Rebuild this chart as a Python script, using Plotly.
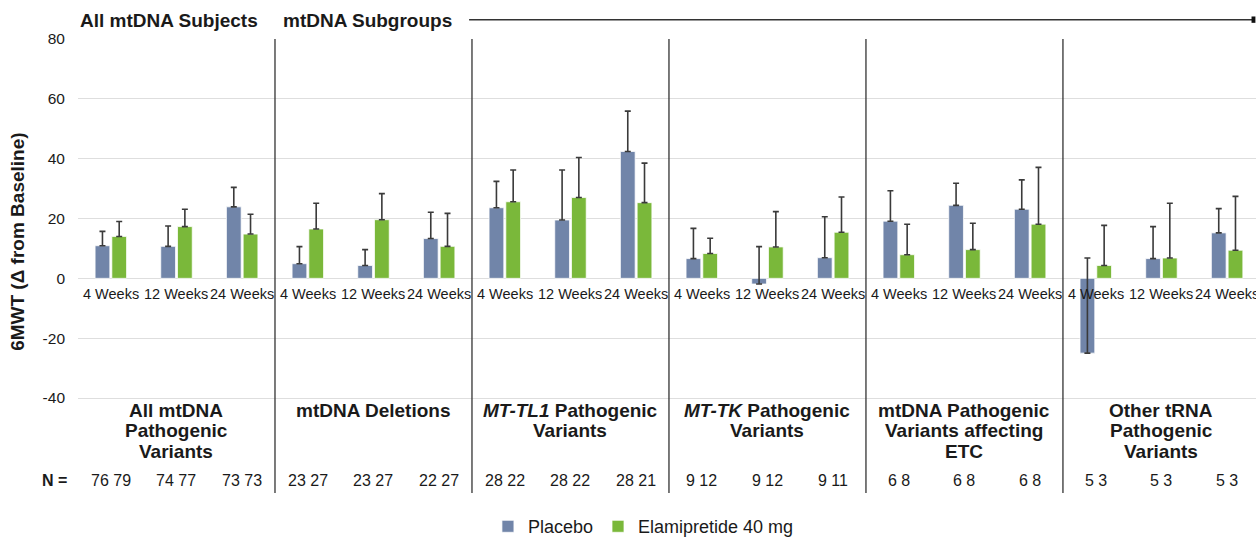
import plotly.graph_objects as go

# ---------------- data ----------------
weeks = ["4 Weeks", "12 Weeks", "24 Weeks"]
groups = [
    "All mtDNA<br>Pathogenic<br>Variants",
    "mtDNA Deletions",
    "<i>MT-TL1</i> Pathogenic<br>Variants",
    "<i>MT-TK</i> Pathogenic<br>Variants",
    "mtDNA Pathogenic<br>Variants affecting<br>ETC",
    "Other tRNA<br>Pathogenic<br>Variants",
]
placebo = [10.9, 10.7, 23.9, 4.9, 4.3, 13.3, 23.6, 19.5, 42.4,
           6.6, -1.9, 6.9, 19.1, 24.4, 23.1, -25.0, 6.6, 15.2]
placebo_se = [4.8, 6.8, 6.5, 5.7, 5.3, 8.8, 8.8, 16.7, 13.5,
              10.1, 12.5, 13.7, 10.2, 7.4, 9.8, 31.8, 10.7, 8.1]
elam = [14.0, 17.3, 14.8, 16.5, 19.6, 10.7, 25.6, 27.0, 25.3,
        8.3, 10.5, 15.4, 7.9, 9.6, 18.1, 4.3, 6.8, 9.4]
elam_se = [5.0, 5.8, 6.6, 8.6, 8.7, 11.0, 10.6, 13.4, 13.2,
           5.1, 11.8, 11.8, 10.2, 8.8, 19.0, 13.4, 18.3, 18.0]
n_placebo = [76, 74, 73, 23, 23, 22, 28, 28, 28, 9, 9, 9, 6, 6, 6, 5, 5, 5]
n_elam = [79, 77, 73, 27, 27, 27, 22, 22, 21, 12, 12, 11, 8, 8, 8, 3, 3, 3]
y_ticks = [-40, -20, 0, 20, 40, 60, 80]
y_tick_text = ["-40", "-20", "0", "20", "40", "60", "80"]
header_left = "All mtDNA Subjects"
header_right = "mtDNA Subgroups"
y_title = "6MWT (Δ from Baseline)"
series_names = ["Placebo", "Elamipretide 40 mg"]

# ---------------- styling ----------------
FONT = "Arial, 'Liberation Sans', sans-serif"
C_PLA = "#7185A9"
C_ELA = "#7AB83A"
TXT = "#1a1a1a"
ERR = "#3a3a3a"

n_cat = len(groups) * len(weeks)
xs = list(range(n_cat))

fig = go.Figure()
for name, vals, se, col in [(series_names[0], placebo, placebo_se, C_PLA),
                             (series_names[1], elam, elam_se, C_ELA)]:
    fig.add_trace(go.Bar(
        x=xs, y=vals, name=name,
        marker=dict(color=col, line=dict(color="rgba(255,255,255,0.75)", width=1)),
        error_y=dict(type="data", symmetric=False, array=se,
                     arrayminus=[0] * len(se), color=ERR, thickness=1.6, width=3),
    ))

annotations = []
# week labels just below zero
for i in xs:
    annotations.append(dict(x=i, y=0, xref="x", yref="y", yanchor="top", yshift=-6,
                            text=weeks[i % 3], showarrow=False,
                            font=dict(family=FONT, size=14.5, color=TXT)))
# group labels (line by line)
line_y = [-44.2, -50.9, -57.8]
for g, lab in enumerate(groups):
    for k, line in enumerate(lab.split("<br>")):
        annotations.append(dict(x=3 * g + 1, y=line_y[k], xref="x", yref="y",
                                yanchor="middle", text="<b>" + line + "</b>",
                                showarrow=False,
                                font=dict(family=FONT, size=19, color=TXT)))
# N row
annotations.append(dict(x=-0.02, y=-67.6, xref="paper", yref="y", xanchor="center",
                        yanchor="middle", text="<b>N =</b>", showarrow=False,
                        font=dict(family=FONT, size=16, color=TXT)))
for i in xs:
    annotations.append(dict(x=i, y=-67.6, xref="x", yref="y", yanchor="middle",
                            text=f"{n_placebo[i]} {n_elam[i]}", showarrow=False,
                            font=dict(family=FONT, size=16, color=TXT)))
# header
annotations.append(dict(x=0.0, y=1.040, xref="paper", yref="paper", xanchor="left",
                        yanchor="middle", text="<b>" + header_left + "</b>",
                        showarrow=False, font=dict(family=FONT, size=19, color=TXT)))
annotations.append(dict(x=0.172, y=1.040, xref="paper", yref="paper", xanchor="left",
                        yanchor="middle", text="<b>" + header_right + "</b>",
                        showarrow=False, font=dict(family=FONT, size=19, color=TXT)))
# y-axis title
annotations.append(dict(x=-0.051, y=0.553, xref="paper", yref="paper", xanchor="center",
                        yanchor="middle", textangle=-90, text="<b>" + y_title + "</b>",
                        showarrow=False, font=dict(family=FONT, size=19, color=TXT)))

shapes = []
for g in range(1, len(groups)):
    shapes.append(dict(type="line", xref="x", yref="paper", x0=3 * g - 0.5, x1=3 * g - 0.5,
                       y0=0, y1=1, line=dict(color="#333333", width=1.3)))
shapes.append(dict(type="line", xref="paper", yref="paper", x0=0.332, x1=0.997,
                   y0=1.0426, y1=1.0426, line=dict(color="#333333", width=1.5)))
shapes.append(dict(type="rect", xref="paper", yref="paper", x0=0.9962, x1=0.9995,
                   y0=1.0426 - 0.007, y1=1.0426 + 0.007, fillcolor="#111111",
                   line=dict(width=0)))

fig.update_layout(
    width=1256, height=540,
    margin=dict(l=78, r=0, t=39, b=47, autoexpand=False),
    paper_bgcolor="white", plot_bgcolor="white",
    barmode="group", bargap=0.49, bargroupgap=0.12,
    font=dict(family=FONT, color=TXT),
    showlegend=True,
    legend=dict(orientation="h", x=0.48, xanchor="center", y=-0.074, yanchor="middle",
                font=dict(family=FONT, size=18, color=TXT), itemwidth=30),
    xaxis=dict(range=[-0.5, 17.44], showticklabels=False, showgrid=False,
               zeroline=False, showline=False, ticks="", automargin=False),
    yaxis=dict(range=[-71.75, 80], tickvals=y_ticks, ticktext=y_tick_text,
               showgrid=True, gridcolor="#DEDEDE", gridwidth=1, zeroline=False,
               showline=False, ticks="", ticklabelstandoff=12, automargin=False,
               tickfont=dict(family=FONT, size=15.5, color=TXT)),
    annotations=annotations,
    shapes=shapes,
)

fig.write_html("out.html", config={"displayModeBar": False})
